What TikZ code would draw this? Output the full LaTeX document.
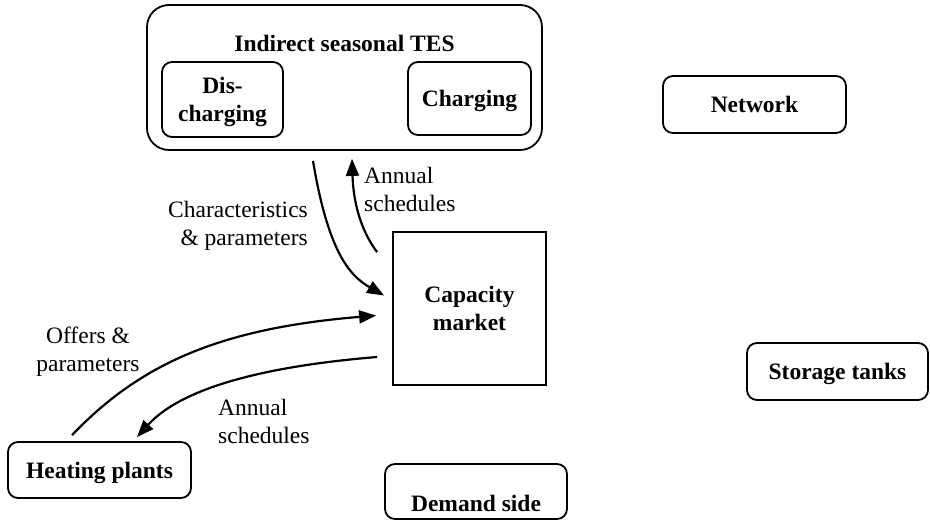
\documentclass[tikz,border=0pt]{standalone}
\usepackage{fontspec}
\setmainfont{Liberation Serif}
\usetikzlibrary{arrows.meta}
\begin{document}
\begin{tikzpicture}[x=1pt,y=-1pt,
  font=\fontsize{23.5}{28}\selectfont,
  box/.style={draw, line width=1.8pt, rounded corners=10pt, inner sep=0pt,
              text depth=0pt,
              font=\fontsize{23.5}{28}\selectfont\bfseries, align=center},
  plainbox/.style={draw, line width=1.8pt, inner sep=0pt, text depth=0pt,
              font=\fontsize{23.5}{28}\selectfont\bfseries, align=center},
  flow/.style={line width=2.2pt, -{Triangle[length=17pt,width=13pt]}},
  lbl/.style={inner sep=0pt}]
\useasboundingbox (0,0) rectangle (930,520);

% outer container with its two sub-units
\node[box, rounded corners=22pt, minimum width=395pt, minimum height=145pt]
  (tes) at (344.5,77.5) {};
\node[lbl, font=\fontsize{23.5}{28}\selectfont\bfseries] (testitle) at (344.5,43) {Indirect seasonal TES};
\node[box, minimum width=121pt, minimum height=75pt] (dis) at (222.5,99.5) {Dis-\\charging};
\node[box, minimum width=123pt, minimum height=73pt] (chg) at (469.5,98.5) {Charging};

% remaining units
\node[box, minimum width=183pt, minimum height=57pt] (net) at (754.5,104.5) {Network};
\node[box, minimum width=181pt, minimum height=57pt] (st) at (837.5,371.5) {Storage tanks};
\node[plainbox, minimum width=153pt, minimum height=153pt] (cap) at (469.5,308.5) {Capacity\\market};
\node[box, minimum width=183pt, minimum height=56pt] (hp) at (99.5,470) {Heating plants};
\node[box, minimum width=182pt, minimum height=55pt] (ds) at (476,491.5) {};
\node[lbl, font=\fontsize{23.5}{28}\selectfont\bfseries] (dslabel) at (476,503) {Demand side};

% information flows
\draw[flow] ([shift={(-31.5,10)}]tes.south)
  .. controls +(15,90) and +(-35,-20) .. ([shift={(-8,-13)}]cap.west);
\draw[flow] ([shift={(-15,21)}]cap.north west)
  .. controls +(-21,-28) and +(1,32) .. ([shift={(7.5,8)}]tes.south);
\draw[flow] ([shift={(-27.5,-6)}]hp.north)
  .. controls +(68,-71) and +(-157,13) .. ([shift={(-16,7)}]cap.west);
\draw[flow] ([shift={(-15,48.5)}]cap.west)
  .. controls +(-98,8) and +(48,-53) .. ([shift={(37.5,-4)}]hp.north);

% flow labels
\node[lbl, anchor=east, align=right] (lchar) at (308,226) {Characteristics\\\& parameters};
\node[lbl, anchor=west, align=left] (lann1) at (364,189) {Annual\\schedules};
\node[lbl, align=center] (loffer) at (88,352) {Offers \&\\parameters};
\node[lbl, anchor=west, align=left] (lann2) at (218,421) {Annual\\schedules};
\end{tikzpicture}
\end{document}
